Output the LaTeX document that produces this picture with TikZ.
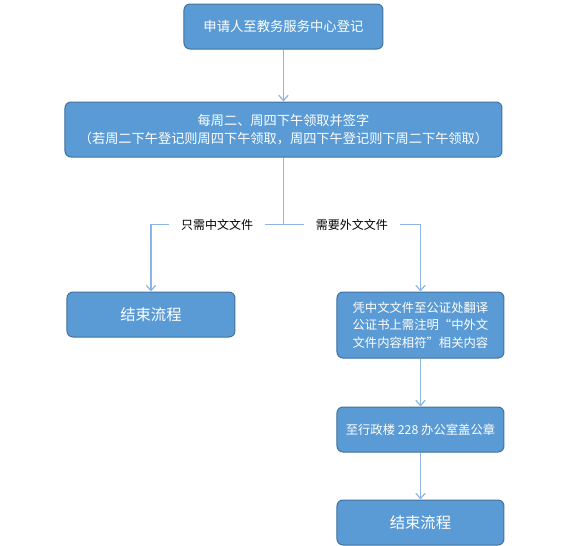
\documentclass[tikz,border=0pt]{standalone}
\usepackage{fontspec}
\setmainfont{Noto Sans CJK SC}
\usetikzlibrary{positioning,arrows.meta}
\definecolor{boxfill}{RGB}{91,155,213}
\definecolor{boxline}{RGB}{65,113,156}
\definecolor{flowline}{RGB}{141,180,226}
\begin{document}
\begin{tikzpicture}[
  box/.style = {draw=boxline, fill=boxfill, rounded corners=4.5pt, line width=0.75pt,
    text=white, font=\fontsize{9.5}{13.5}\selectfont, align=center, inner sep=2pt},
  endbox/.style = {box, font=\fontsize{11.5}{14}\selectfont},
  flow/.style = {draw=flowline, line width=0.9pt, -{Straight Barb[length=4pt,width=7pt]}},
  choice/.style = {fill=white, text=black, font=\fontsize{9}{11}\selectfont, inner xsep=9pt}]
  \useasboundingbox (-212.625pt,19.875pt) rectangle (227.625pt,-389.625pt);
  \node[box, minimum width=149.25pt, minimum height=33.75pt, font=\fontsize{10}{13.5}\selectfont] (apply) at (0,0) {申请人至教务服务中心登记};
  \node[box, minimum width=327.75pt, minimum height=41.25pt, font=\fontsize{9.9}{13.5}\selectfont] (collect) [below=39pt of apply]
    {每周二、周四下午领取并签字\\（若周二下午登记则周四下午领取，周四下午登记则下周二下午领取）};
  \coordinate (split) at ([yshift=-50.25pt]collect.south);
  \node[endbox, minimum width=126pt, minimum height=33.75pt] (endA) [below=50.25pt of split, xshift=-99.4pt] {结束流程};
  \node[box, minimum width=125.25pt, minimum height=49.5pt, align=left, font=\fontsize{9.25}{13}\selectfont] (notary) [below=50.25pt of split, xshift=102.75pt]
    {凭中文文件至公证处翻译\\公证书上需注明“中外文\\文件内容相符”相关内容};
  \node[box, minimum width=125.25pt, minimum height=33.75pt, font=\fontsize{9.25}{13}\selectfont] (stamp) [below=36pt of notary] {至行政楼 228 办公室盖公章};
  \node[endbox, minimum width=125.25pt, minimum height=33.75pt] (endB) [below=35.25pt of stamp] {结束流程};
  \draw[flow] (apply) -- (collect);
  \draw[draw=flowline, line width=0.9pt] (collect) -- (split);
  \draw[flow] (split) -| node[choice, pos=0.25] (onlycn) {只需中文文件} (endA);
  \draw[flow] (split) -| node[choice, pos=0.25] (needfor) {需要外文文件} (notary);
  \draw[flow] (notary) -- (stamp);
  \draw[flow] (stamp) -- (endB);
\end{tikzpicture}
\end{document}
